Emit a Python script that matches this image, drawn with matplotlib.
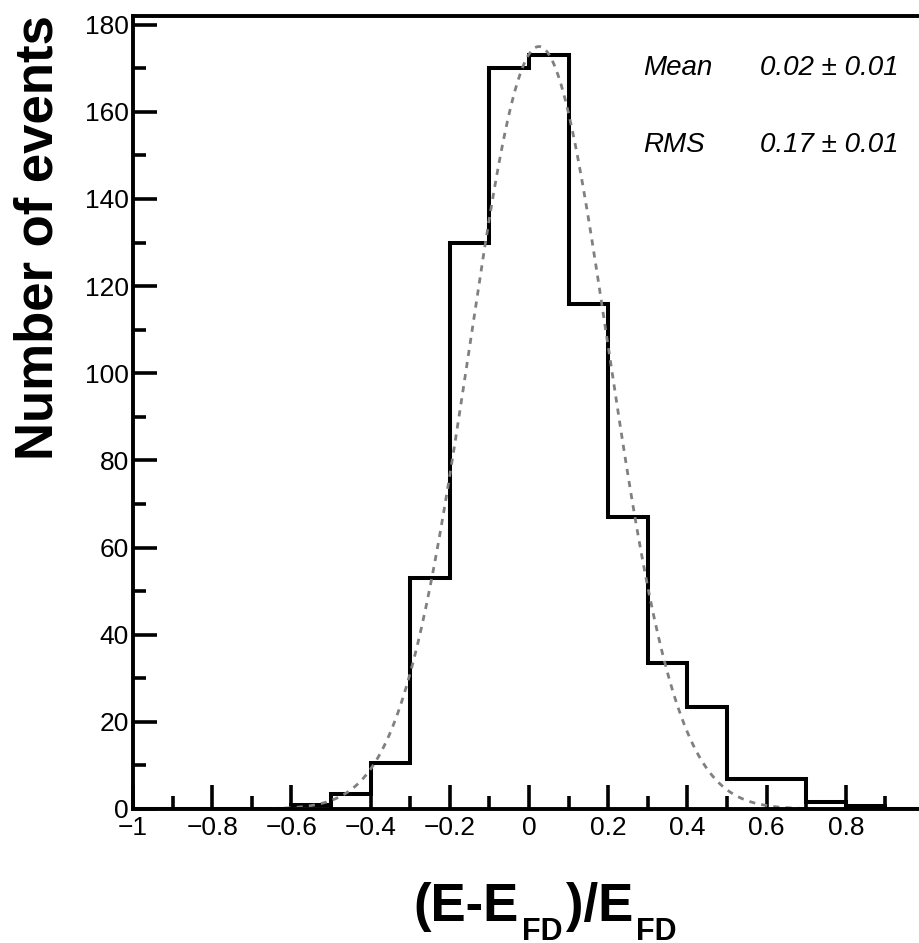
import numpy as np
import matplotlib
matplotlib.use("Agg")
import matplotlib.pyplot as plt
from matplotlib.ticker import MultipleLocator

# histogram of (E-E_FD)/E_FD, 20 bins of 0.1 between -1 and 1
bin_edges = np.linspace(-1.0, 1.0, 21)
counts = [0, 0, 0, 0, 1, 3.5, 10.5, 53, 130, 170,
          173, 116, 67, 33.5, 23.5, 7, 7, 1.6, 0.8, 0]

# gaussian fit shown as dashed curve
fit_mean = 0.025
fit_sigma = 0.175
fit_amp = 175.0
fit_range = (-0.71, 0.75)

x_ticks = [-1, -0.8, -0.6, -0.4, -0.2, 0, 0.2, 0.4, 0.6, 0.8, 1]
x_tick_labels = ["\u22121", "\u22120.8", "\u22120.6", "\u22120.4", "\u22120.2",
                 "0", "0.2", "0.4", "0.6", "0.8", "1"]
y_ticks = [0, 20, 40, 60, 80, 100, 120, 140, 160, 180]
y_tick_labels = [str(v) for v in y_ticks]

stats = [("Mean", "0.02 \u00b1 0.01"), ("RMS", "0.17 \u00b1 0.01")]

W, H = 920, 943
plt.rcParams["font.family"] = ["Liberation Sans", "DejaVu Sans"]

fig = plt.figure(figsize=(W / 100, H / 100), dpi=100)
ax = fig.add_axes([133 / W, 134 / H, (925 - 133) / W, (809 - 16) / H])

ax.stairs(counts, bin_edges, color="black", linewidth=2.9)

xf = np.linspace(fit_range[0], fit_range[1], 400)
yf = fit_amp * np.exp(-0.5 * ((xf - fit_mean) / fit_sigma) ** 2)
ax.plot(xf, yf, color="0.5", linewidth=2.0, linestyle=(0, (2.2, 2.2)))

ax.set_xlim(-1, 1)
ax.set_ylim(0, 182)
ax.set_xticks(x_ticks)
ax.set_xticklabels(x_tick_labels)
ax.set_yticks(y_ticks)
ax.set_yticklabels(y_tick_labels)
ax.xaxis.set_minor_locator(MultipleLocator(0.1))
ax.yaxis.set_minor_locator(MultipleLocator(10))

ax.tick_params(which="both", direction="in", width=2.6, top=False, right=False,
               labelsize=19)
ax.tick_params(which="major", length=17)
ax.tick_params(which="minor", length=9.5)
ax.tick_params(axis="x", pad=5)
ax.tick_params(axis="y", pad=3)
for sp in ax.spines.values():
    sp.set_linewidth(2.8)

# fit statistics box (no frame)
for i, (name, val) in enumerate(stats):
    ypix = H - (68 + i * 77)
    fig.text(643 / W, ypix / H, name, fontsize=20, style="italic",
             ha="left", va="center")
    fig.text(760 / W, ypix / H, val, fontsize=20, style="italic",
             ha="left", va="center")

# axis titles
fig.text(39 / W, (H - 238) / H, "Number of events", rotation=90,
         fontsize=38, fontweight="bold", ha="center", va="center")

t1 = fig.text(413 / W, 22 / H, "(E-E", fontsize=38, fontweight="bold",
              ha="left", va="baseline")
t2 = ax.annotate("FD", xy=(1, H - 917), xycoords=(t1, "figure pixels"),
                 xytext=(3, 0), textcoords="offset points",
                 fontsize=22, fontweight="bold", ha="left", va="top",
                 annotation_clip=False)
t3 = ax.annotate(")/E", xy=(1, 22), xycoords=(t2, "figure pixels"),
                 xytext=(2, 0), textcoords="offset points",
                 fontsize=38, fontweight="bold", ha="left", va="baseline",
                 annotation_clip=False)
t4 = ax.annotate("FD", xy=(1, H - 917), xycoords=(t3, "figure pixels"),
                 xytext=(2, 0), textcoords="offset points",
                 fontsize=22, fontweight="bold", ha="left", va="top",
                 annotation_clip=False)

fig.savefig("out.png", dpi=100)
